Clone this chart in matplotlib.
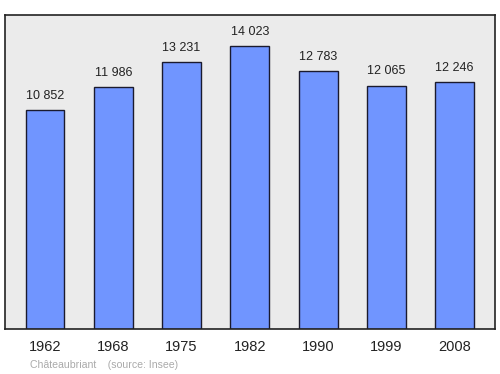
import matplotlib
matplotlib.use("Agg")
import matplotlib.pyplot as plt
plt.rcParams['font.family'] = ['Liberation Sans', 'DejaVu Sans']

years = ['1962', '1968', '1975', '1982', '1990', '1999', '2008']
population = [10852, 11986, 13231, 14023, 12783, 12065, 12246]
labels = ['10 852', '11 986', '13 231', '14 023', '12 783', '12 065', '12 246']

fig = plt.figure(figsize=(5, 3.74), dpi=100)
ax = fig.add_axes([5 / 500, 1 - 329 / 374, 490 / 500, 314 / 374])
ax.set_facecolor('#ebebeb')

x = range(len(years))
ax.bar(x, population, width=0.57, color='#7095ff', edgecolor='#1a1a2e', linewidth=1, zorder=2)
for xi, val, lab in zip(x, population, labels):
    ax.annotate(lab, (xi, val), xytext=(0, 6), textcoords='offset points',
                ha='center', va='bottom', fontsize=9, color='#222222')

ax.set_xlim(-0.586, 6.59)
ax.set_ylim(0, 15560)
ax.set_xticks(list(x))
ax.set_xticklabels(years, fontsize=10.5, color='#222222')
ax.tick_params(axis='x', length=0, pad=8)
ax.set_yticks([])
for s in ax.spines.values():
    s.set_color('#222222')
    s.set_linewidth(1.2)

fig.text(30 / 500, 1 - 365 / 374, 'Châteaubriant    (source: Insee)', fontsize=7.6,
         color='#aaaaaa', ha='left', va='center')

fig.savefig('out.png', dpi=100)
